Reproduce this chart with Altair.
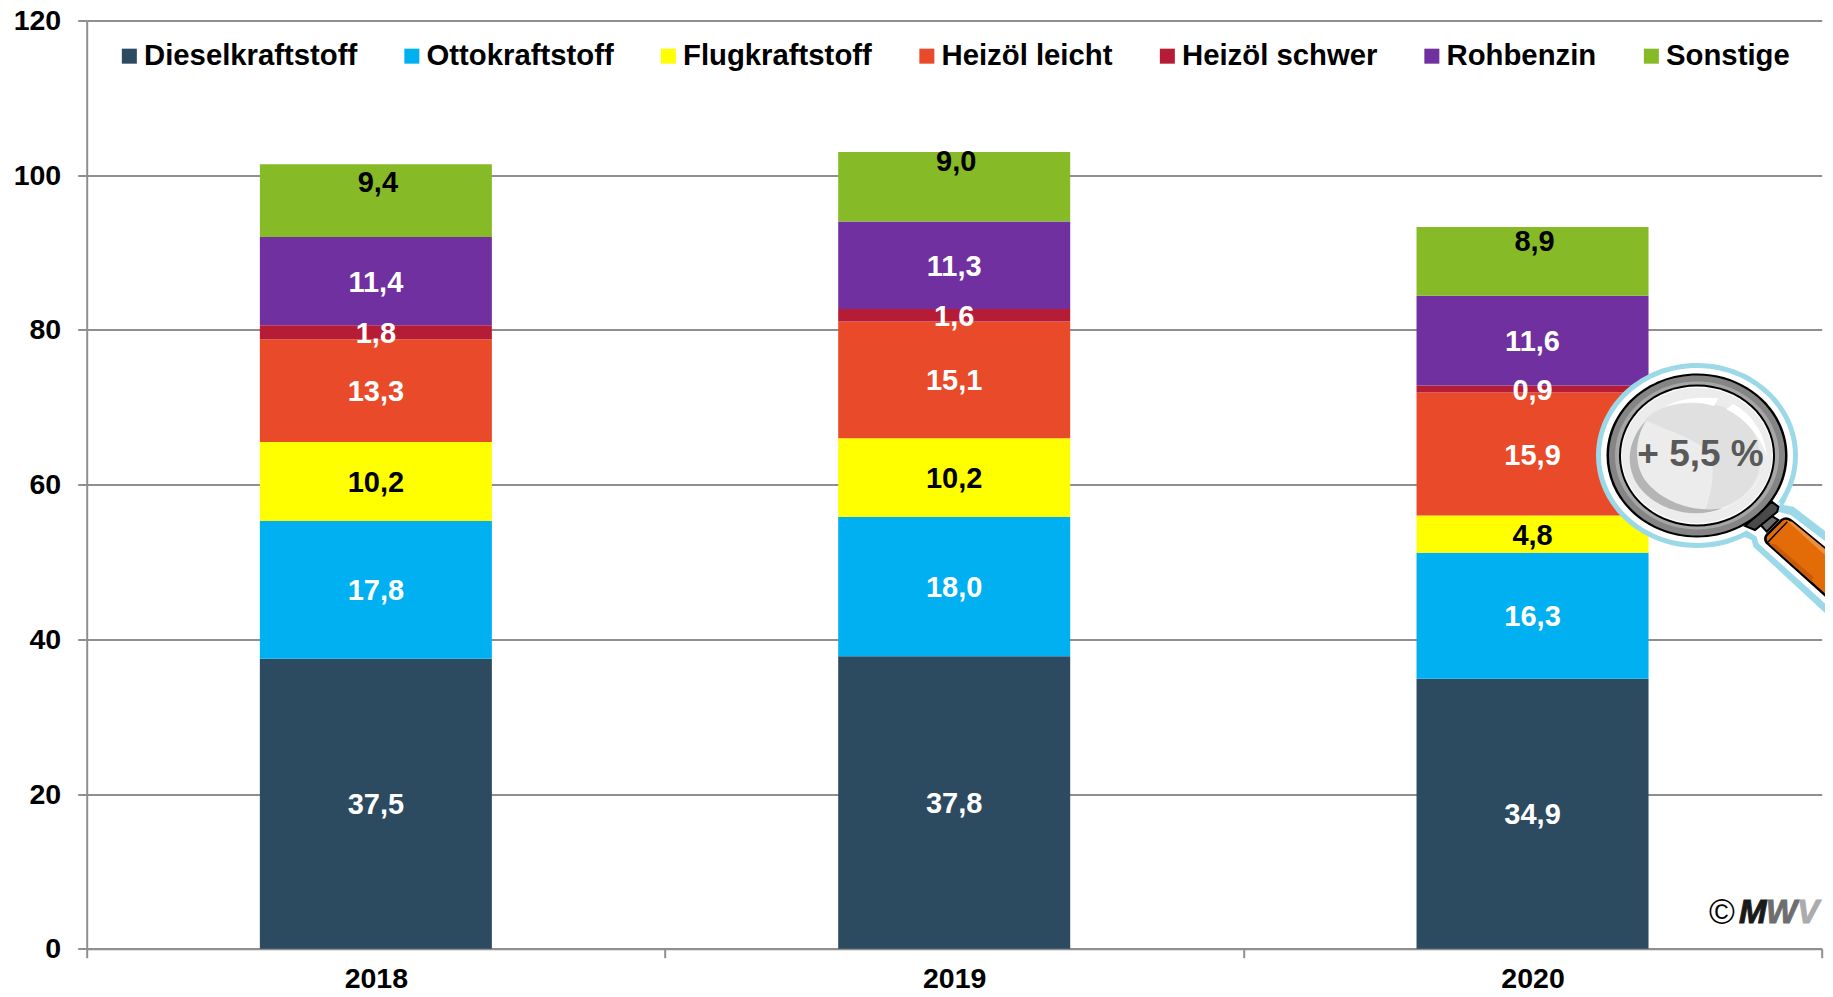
import re
import altair as alt
import pandas as pd

years = ["2018", "2019", "2020"]
series = ["Dieselkraftstoff", "Ottokraftstoff", "Flugkraftstoff", "Heizöl leicht",
          "Heizöl schwer", "Rohbenzin", "Sonstige"]
colors = ["#2C4A60", "#00B0F0", "#FFFF00", "#E94B2A", "#B71C36", "#7030A0", "#86BA26"]
label_colors = ["white", "white", "black", "white", "white", "white", "black"]
diesel = [37.5, 37.8, 34.9]
otto = [17.8, 18.0, 16.3]
flug = [10.2, 10.2, 4.8]
leicht = [13.3, 15.1, 15.9]
schwer = [1.8, 1.6, 0.9]
rohbenzin = [11.4, 11.3, 11.6]
sonstige = [9.4, 9.0, 8.9]
sonstige_label_at = [99.0, 101.7, 91.4]
y_ticks = [0, 20, 40, 60, 80, 100, 120]

columns = [diesel, otto, flug, leicht, schwer, rohbenzin, sonstige]
rows = []
for yi, year in enumerate(years):
    base = 0.0
    for si, name in enumerate(series):
        v = columns[si][yi]
        rows.append({"year": year, "series": name, "value": v, "idx": si,
                     "mid": base + v / 2 if name != "Sonstige" else sonstige_label_at[yi],
                     "label": f"{v:.1f}".replace(".", ","), "lc": label_colors[si]})
        base += v
df = pd.DataFrame(rows)

W, H = 1735, 928.2
OX, OY = 86.7, 20.5
FONT = "Liberation Sans"
GRAY = "#8F8F8F"
FS = 29
AXFS = 28.5

x = alt.X("year:N", title=None,
          scale=alt.Scale(paddingInner=0, paddingOuter=0),
          axis=alt.Axis(labelAngle=0, labelFont=FONT, labelFontSize=AXFS, labelFontWeight="bold",
                        labelColor="black", tickBand="extent", tickSize=9, tickWidth=2,
                        tickColor=GRAY, domainColor=GRAY, domainWidth=2, labelPadding=7, grid=False))
y = alt.Y("value:Q", stack="zero", title=None,
          scale=alt.Scale(domain=[0, 120], nice=False),
          axis=alt.Axis(values=y_ticks, labelFont=FONT, labelFontSize=AXFS, labelFontWeight="bold",
                        labelColor="black", tickSize=9, tickWidth=2, tickColor=GRAY,
                        domainColor=GRAY, domainWidth=2, gridColor=GRAY, gridWidth=2,
                        gridOpacity=1, labelPadding=17, grid=True))

bars = alt.Chart(df).mark_bar(size=232).encode(
    x=x, y=y,
    color=alt.Color("series:N", title=None,
                    scale=alt.Scale(domain=series, range=colors),
                    sort=series,
                    legend=alt.Legend(orient="none", legendX=28, legendY=21, direction="horizontal",
                                      columns=7, symbolType="square", symbolSize=225,
                                      symbolStrokeWidth=0, labelFont=FONT, labelFontSize=29.3,
                                      labelFontWeight="bold", labelColor="black", labelLimit=500,
                                      labelOffset=0, columnPadding=39.5)),
    order=alt.Order("idx:Q"),
)


def labels(frame, dx=0, dy=0):
    return alt.Chart(frame).mark_text(font=FONT, fontSize=FS, fontWeight="bold", baseline="middle",
                                      dx=dx, dy=dy).encode(
        x=alt.X("year:N"),
        y=alt.Y("mid:Q"),
        text="label:N",
        color=alt.Color("lc:N", scale=None, legend=None),
    )


text_a = labels(df[df.series != "Sonstige"], dy=1.5)
text_b = labels(df[df.series == "Sonstige"], dx=2)

one = alt.Data(values=[{"k": 1}])


def shape(path, fill=None, stroke=None, sw=0):
    kw = {"fill": fill or "transparent", "opacity": 1}
    if stroke:
        kw.update(stroke=stroke, strokeWidth=sw)
    return alt.Chart(one).mark_point(shape=path, size=4, filled=True, **kw).encode(
        x=alt.value(-OX), y=alt.value(-OY))


def ell(rx, ry, cx=1697, cy=455.5):
    return f"M{cx-rx},{cy}A{rx},{ry} 0 1 1 {cx+rx},{cy}A{rx},{ry} 0 1 1 {cx-rx},{cy}Z"


def zoomed(path, ox, oy):
    nums = iter(range(10**6))
    def rep(m):
        v = float(m.group(0))
        return f"{(ox if next(nums) % 2 == 0 else oy) + v / 3:.2f}"
    return re.sub(r"-?\d+(?:\.\d+)?", rep, path)


def z6(p):
    return zoomed(p, 1700, 440)


def z7(p):
    return zoomed(p, 1620, 380)


BLUE = "#9BD8E8"
magnifier = [
    shape(ell(101, 92.5), BLUE),
    shape(z6("M262 175 L250 195 L280 200 L430 315 L430 570 L160 320 L155 300 L120 285 Z"), BLUE),
    shape(ell(96, 87.5), "white"),
    shape(z6("M240 185 L235 215 L272 225 L430 345 L430 540 L175 310 L170 290 L130 265 Z"), "white"),
    shape(z6("M182 255 L215 228 L235 240 L200 275 Z"), "#6B6B6B", "black", 2),
    shape(z6("M135 258 L215 185 L235 200 L232 215 L165 270 Z"), "#4A4A4A", "black", 2),
    shape(z6("M200 285 L245 240 Q260 230 275 243 L430 370 L430 515 L205 312 Q190 300 200 285 Z"), "#E36C09", "black", 2.5),
    shape(z6("M262 243 L276 245 L430 372 L430 395 Z"), "#EE8F3E"),
    shape(z6("M208 312 L225 312 L340 410 L335 425 Z"), "#C75B0A"),
    shape(z6("M205 305 L262 245"), "transparent", "black", 1.5),
    shape(ell(90.5, 82), "black"),
    shape(ell(88, 80), "#858585"),
    shape(ell(82, 74), "#A6A6A6"),
    shape(ell(78, 71), "black"),
    shape(ell(76, 69), "white"),
    shape(ell(75, 67.5), "#ECECEC"),
    shape(z7("M75 120 C110 75 200 60 290 75 C380 95 425 170 420 250 C415 330 340 385 255 395 C280 320 285 260 270 225 C230 170 130 150 75 120 Z"), "#E0E0E0"),
    shape(z7("M80 120 C35 165 15 230 40 290 C70 365 190 430 310 385 C210 400 120 360 75 300 C40 250 45 170 80 120 Z"), "#B5B5B5"),
    shape(z7("M135 80 C180 55 240 50 295 55 L282 78 C235 62 180 65 135 80 Z"), "white"),
    shape(z7("M318 88 L340 72 C400 105 440 170 440 235 C435 190 380 115 318 88 Z"), "white"),
    shape(z7("M250 400 C320 395 390 350 425 280 C400 340 330 390 250 400 Z"), "white"),
]


def note(text, x0, y0, size, color="black", weight="bold", style="normal", align="center", sw=0):
    kw = {"stroke": color, "strokeWidth": sw} if sw else {}
    return alt.Chart(one).mark_text(font=FONT, fontSize=size, fontWeight=weight, fontStyle=style,
                                    align=align, baseline="middle", color=color, **kw).encode(
        x=alt.value(x0 - OX), y=alt.value(y0 - OY), text=alt.value(text))


notes = [
    note("+ 5,5 %", 1700.5, 455, 37, "#595959"),
    note("©", 1722, 913, 35, weight="normal"),
    note("M", 1739, 913, 33, "#1A1A1A", style="italic", align="left", sw=1),
    note("W", 1766, 913, 33, "#6E6E6E", style="italic", align="left", sw=1),
    note("V", 1797, 913, 33, "#ABABAB", style="italic", align="left", sw=1),
]

chart = alt.layer(bars, text_a, text_b, *magnifier, *notes).properties(
    width=W, height=H,
    autosize=alt.AutoSizeParams(type="none"),
    padding={"left": OX - 8, "top": OY - 8, "right": 3.3, "bottom": 40.3},
).configure_view(stroke=None).configure_axis(labelOverlap=False)

chart.save("out.html", embed_options={"renderer": "svg", "actions": False})
